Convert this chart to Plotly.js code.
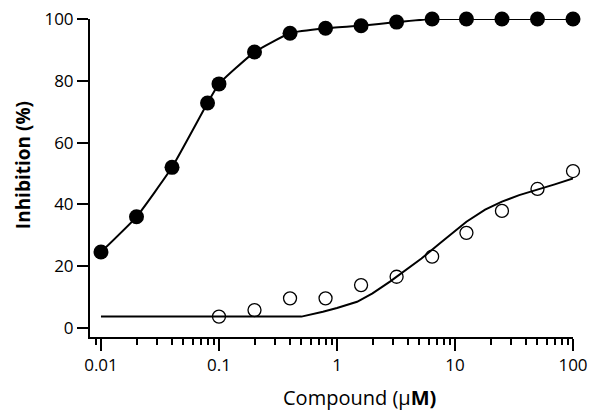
<!DOCTYPE html>
<html>
<head>
<meta charset="utf-8">
<script src="https://cdn.plot.ly/plotly-3.0.1.min.js"></script>
<style>html,body{margin:0;padding:0;background:#fff;}#chart{width:600px;height:419px;}</style>
</head>
<body>
<div id="chart"></div>
<script>
// Filled circles: data points (also joined by the fitted curve)
var filledX = [0.01, 0.02, 0.04, 0.08, 0.1, 0.2, 0.4, 0.8, 1.6, 3.2, 6.4, 12.5, 25, 50, 100];
var filledY = [24.6, 36, 52, 72.8, 79, 89.3, 95.4, 97, 97.8, 99, 100, 100, 100, 100, 100];

// Open circles: data points
var openX = [0.1, 0.2, 0.4, 0.8, 1.6, 3.2, 6.4, 12.5, 25, 50, 100];
var openY = [3.7, 5.8, 9.6, 9.6, 13.9, 16.6, 23.1, 30.8, 37.9, 45, 50.8];

// Open circles: fitted curve
var fitX = [0.01, 0.5, 0.76, 1, 1.48, 2, 2.81, 4, 5.2, 7.5, 10, 12.5, 18, 25, 35, 50, 70, 100];
var fitY = [3.7, 3.7, 5.3, 6.5, 8.5, 11.2, 15, 19.2, 22.5, 27.5, 31.5, 34.4, 38.3, 40.9, 43, 44.7, 46.5, 48.4];

// Axis ticks and titles
var xTickVals = [0.01, 0.1, 1, 10, 100];
var xTickText = ["0.01", "0.1", "1", "10", "100"];
var yTickVals = [0, 20, 40, 60, 80, 100];
var xTitle = "Compound (μ<b>M)</b>";
var yTitle = "<b>Inhibition (%)</b>";

var FONT = "Open Sans, Noto Sans, sans-serif";

var traces = [
  {x: fitX, y: fitY, mode: "lines", type: "scatter",
   line: {color: "#000", width: 2, shape: "linear"}, cliponaxis: false},
  {x: openX, y: openY, mode: "markers", type: "scatter", cliponaxis: false,
   marker: {symbol: "circle-open", size: 13, color: "#000", line: {width: 1.3, color: "#000"}}},
  {x: filledX, y: filledY, mode: "lines+markers", type: "scatter", cliponaxis: false,
   line: {color: "#000", width: 2, shape: "spline", smoothing: 0.4},
   marker: {symbol: "circle", size: 15, color: "#000"}}
];

var layout = {
  width: 600, height: 419,
  margin: {l: 90, r: 27, t: 19, b: 82},
  paper_bgcolor: "#fff", plot_bgcolor: "#fff",
  showlegend: false,
  font: {family: FONT, size: 17, color: "#000"},
  xaxis: {
    type: "log", range: [-2.093, 2],
    tickvals: xTickVals, ticktext: xTickText,
    ticks: "outside", ticklen: 12, tickwidth: 2, tickcolor: "#000",
    minor: {ticks: "outside", ticklen: 6, tickwidth: 2, tickcolor: "#000", dtick: "D1", showgrid: false},
    showline: true, linecolor: "#000", linewidth: 2,
    showgrid: false, zeroline: false,
    tickfont: {family: FONT, size: 17}
  },
  yaxis: {
    range: [-2.9, 100],
    tickvals: yTickVals,
    ticks: "outside", ticklen: 11, tickwidth: 2, tickcolor: "#000",
    showline: true, linecolor: "#000", linewidth: 2,
    showgrid: false, zeroline: false,
    tickfont: {family: FONT, size: 17}
  },
  annotations: [
    {text: xTitle, xref: "paper", yref: "paper", x: 0.557, y: -0.189,
     xanchor: "center", yanchor: "middle", showarrow: false,
     font: {family: FONT, size: 20, color: "#000"}},
    {text: yTitle, xref: "paper", yref: "paper", x: -0.139, y: 0.54,
     xanchor: "center", yanchor: "middle", showarrow: false, textangle: -90,
     font: {family: FONT, size: 19, color: "#000"}}
  ]
};

Plotly.newPlot("chart", traces, layout, {staticPlot: true, displayModeBar: false});
</script>
</body>
</html>
